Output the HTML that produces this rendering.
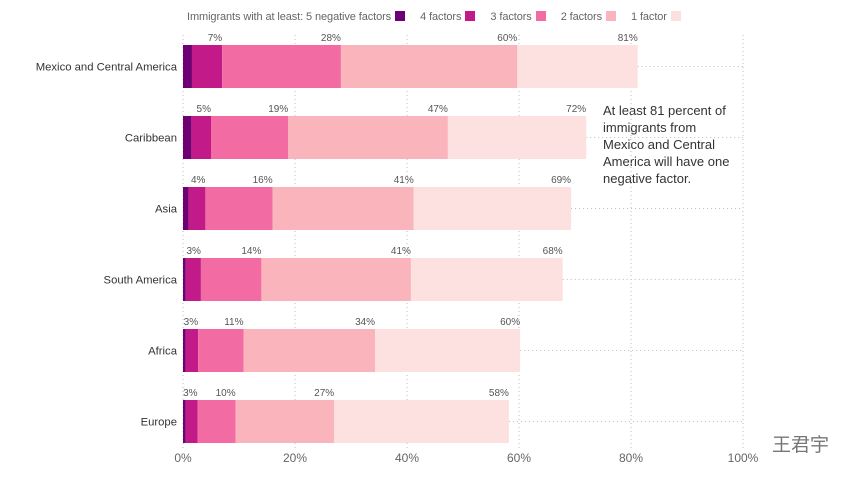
<!DOCTYPE html>
<html><head><meta charset="utf-8"><style>
body{margin:0;background:#fff;font-family:"Liberation Sans","Noto Sans CJK SC",sans-serif;}
#wrap{position:relative;width:864px;height:478px;overflow:hidden}
.legend{position:absolute;top:11px;left:187px;font-size:11px;color:#666;white-space:nowrap;letter-spacing:-0.1px}
.legend span.sw{display:inline-block;width:10px;height:10px;margin:0 15px 0 4px;vertical-align:-1px}
.note{position:absolute;left:603px;top:102px;width:136px;font-size:13px;line-height:17px;color:#333}
.wm{position:absolute;left:772px;top:430px;font-size:19px;color:#777}
</style></head><body><div id="wrap">
<div class="legend">Immigrants with at least: 5 negative factors<span class="sw" style="background:#6f0073"></span>4 factors<span class="sw" style="background:#c21a88"></span>3 factors<span class="sw" style="background:#f26ba3"></span>2 factors<span class="sw" style="background:#f9b4bc"></span>1 factor<span class="sw" style="background:#fde1e0"></span></div>
<div class="note">At least 81 percent of immigrants from Mexico and Central America will have one negative factor.</div>
<div class="wm">王君宇</div>
<svg id="svg" width="864" height="478" style="position:absolute;left:0;top:0"></svg>
</div>
<script>
const categories=["Mexico and Central America","Caribbean","Asia","South America","Africa","Europe"];
const f5=[1.6,1.5,1,0.5,0.5,0.5];
const f4=[7,5,4,3.2,2.7,2.6];
const f3=[28.2,18.8,16,14,10.8,9.4];
const f2=[59.7,47.3,41.2,40.7,34.3,27];
const f1=[81.2,72,69.3,67.8,60.2,58.2];
const lab4=["7%","5%","4%","3%","3%","3%"];
const lab3=["28%","19%","16%","14%","11%","10%"];
const lab2=["60%","47%","41%","41%","34%","27%"];
const lab1=["81%","72%","69%","68%","60%","58%"];
const ticks=[0,20,40,60,80,100];
const colors=["#6f0073","#c21a88","#f26ba3","#f9b4bc","#fde1e0"];
const svg=document.getElementById('svg');const NS="http://www.w3.org/2000/svg";
const x=v=>183+v*5.6;const yTop=i=>45+i*71;const BH=43;
function mk(t,a){const e=document.createElementNS(NS,t);for(const k in a)e.setAttribute(k,a[k]);svg.appendChild(e);return e;}
ticks.forEach(t=>{
const l=mk('line',{x1:x(t),x2:x(t),y1:35,y2:448,stroke:'#bbb','stroke-dasharray':'1,3'});


const tx=mk('text',{x:x(t),y:462,'text-anchor':'middle','font-size':12,fill:'#666'});tx.textContent=t+'%';


});
categories.forEach((c,i)=>{
const y0=yTop(i);
const hl=mk('line',{x1:x(f1[i]),x2:x(100),y1:y0+BH/2,y2:y0+BH/2,stroke:'#bbb','stroke-dasharray':'1,3'});


const ends=[f5[i],f4[i],f3[i],f2[i],f1[i]];
let prev=0;
ends.forEach((e,k)=>{
const r=mk('rect',{x:x(prev),y:y0,width:x(e)-x(prev),height:BH,fill:colors[k]});


prev=e;});
[[f4,lab4],[f3,lab3],[f2,lab2],[f1,lab1]].forEach(([v,l])=>{
const t=mk('text',{x:x(v[i]),y:y0-4,'text-anchor':'end','font-size':10,fill:'#555'});t.textContent=l[i];


});
const cl=mk('text',{x:177,y:y0+BH/2+4,'text-anchor':'end','font-size':11.3,fill:'#333'});cl.textContent=c;


});
</script></body></html>
